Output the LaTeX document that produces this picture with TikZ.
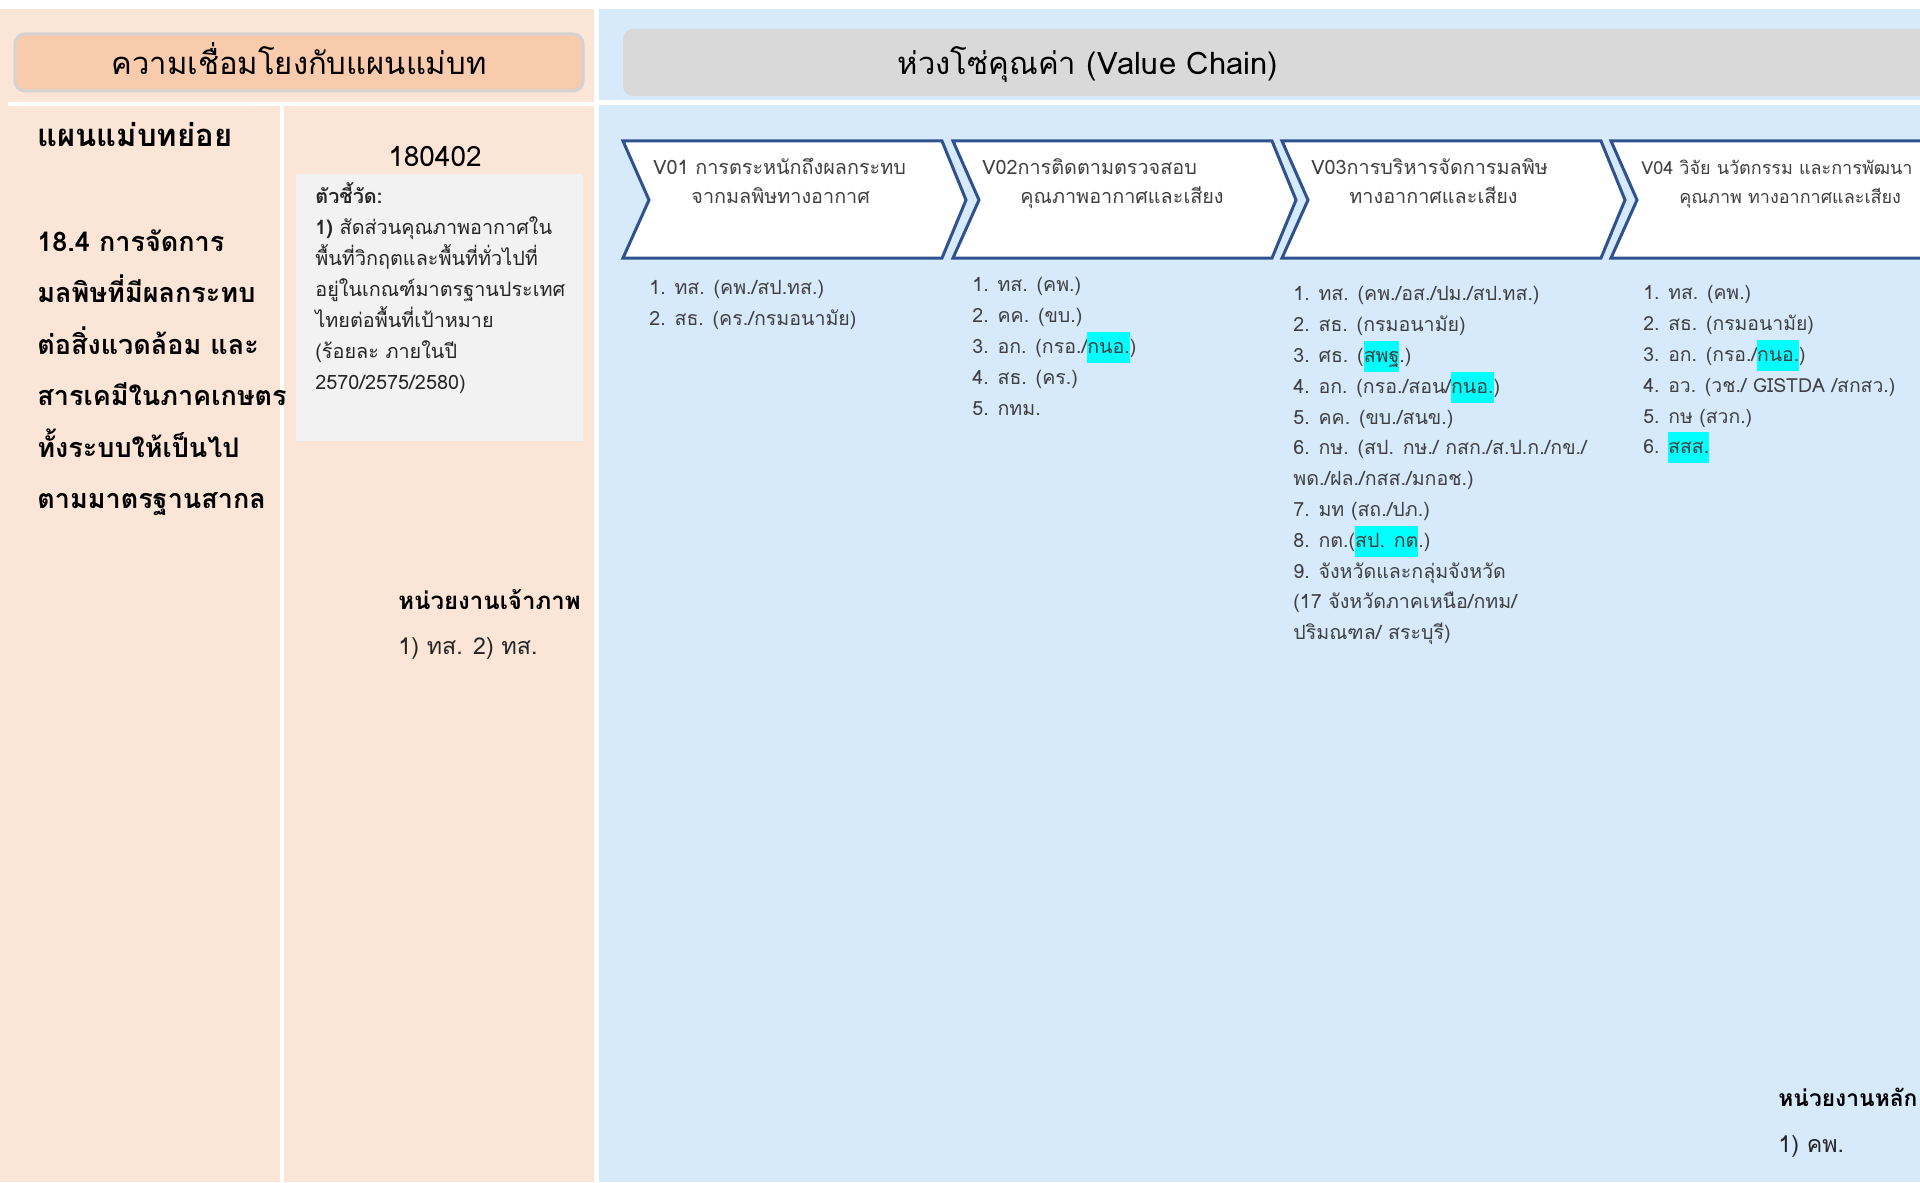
\documentclass[tikz,border=0pt]{standalone}
\usepackage{fontspec}
\newfontfamily\thaifont[Script=Thai]{Loma}
\usetikzlibrary{positioning}
\definecolor{peach}{HTML}{FBE5D6}
\definecolor{peachhead}{HTML}{F8CBAD}
\definecolor{rimgray}{HTML}{D5D3D2}
\definecolor{paleblue}{HTML}{D6EAFC}
\definecolor{headgray}{HTML}{D9D9D9}
\definecolor{boxgray}{HTML}{F2F2F2}
\definecolor{chevblue}{HTML}{2F528F}
\definecolor{txtgray}{HTML}{404040}
\definecolor{hlcyan}{HTML}{00FFFF}
\newcommand{\hl}[1]{{\setlength{\fboxsep}{0pt}\colorbox{hlcyan}{\strut#1}}}

\begin{document}
\begin{tikzpicture}[x=.5pt,y=-.5pt,
	chev/.style={draw=chevblue, line width=1.5pt, fill=white},
	hdtxt/.style={anchor=base, inner sep=0, font=\thaifont\fontsize{15.5}{18}\selectfont},
	chevtxt/.style={anchor=north west, align=left, inner sep=0, text=txtgray, font=\thaifont\fontsize{9.9}{14.5}\selectfont},
	listtxt/.style={anchor=north west, align=left, inner sep=0, text=txtgray, font=\thaifont\fontsize{9.8}{15.4}\selectfont}]
	\useasboundingbox (0,0) rectangle (1920,1182);
	\fill[white] (0,0) rectangle (1920,1182);
	% panels
	\fill[peach] (0,9) rectangle (594,1182);
	\fill[paleblue] (599,9) rectangle (1920,1182);
	\fill[white] (8,102) rectangle (594,106);
	\fill[white] (599,100) rectangle (1920,105);
	\fill[white] (280,106) rectangle (284,1182);
	% headers
	\draw[rounded corners=5pt, draw=rimgray, line width=1.5pt, fill=peachhead] (15,34) rectangle (583,91);
	\fill[rounded corners=5pt, headgray] (623,29) rectangle (1950,96);
	\node[hdtxt] (plan) at (299,75) {ความเชื่อมโยงกับแผนแม่บท};
	\node[hdtxt] (chain) at (1088,75) {ห่วงโซ่คุณค่า (Value Chain)};
	% left column
	\node[anchor=base west, inner sep=0, font=\thaifont\bfseries\fontsize{15.5}{18}\selectfont] (sub) at (37,147) {แผนแม่บทย่อย};
	\node[anchor=north west, align=left, inner sep=0, font=\thaifont\bfseries\fontsize{13.5}{25.75}\selectfont] (goal) at (37,215)
		{\strut 18.4 การจัดการ\\มลพิษที่มีผลกระทบ\\ต่อสิ่งแวดล้อม และ\\สารเคมีในภาคเกษตร\\ทั้งระบบให้เป็นไป\\ตามมาตรฐานสากล};
	\node[hdtxt, font=\thaifont\fontsize{14}{17}\selectfont] (code) at (435,167) {180402};
	\fill[boxgray] (296,174) rectangle (583,441);
	\node[anchor=north west, align=left, inner sep=0, text=black!85, font=\thaifont\fontsize{9.9}{15.5}\selectfont] (kpi) at (315,181)
		{\strut\textbf{ตัวชี้วัด:}\\\textbf{1)} สัดส่วนคุณภาพอากาศใน\\พื้นที่วิกฤตและพื้นที่ทั่วไปที่\\อยู่ในเกณฑ์มาตรฐานประเทศ\\ไทยต่อพื้นที่เป้าหมาย\\(ร้อยละ ภายในปี\\2570/2575/2580)};
	\node[anchor=base west, inner sep=0, font=\thaifont\bfseries\fontsize{12}{15}\selectfont] (host) at (398,609) {หน่วยงานเจ้าภาพ};
	\node[anchor=base west, inner sep=0, text=black!85, font=\thaifont\fontsize{11.6}{15}\selectfont] (hostlist) at (398,654) {1) ทส. 2) ทส.};
	% value chain
	\foreach \x in {623,953,1282,1611}
		\draw[chev] (\x,141) -- ++(319,0) -- ++(24,59) -- ++(-24,58) -- ++(-319,0) -- ++(26,-58) -- cycle;
	\node[chevtxt] (v01) at (653,154) {\strut V01 การตระหนักถึงผลกระทบ\\\hspace*{19pt}จากมลพิษทางอากาศ};
	\node[chevtxt] (v02) at (982,154) {\strut V02การติดตามตรวจสอบ\\\hspace*{19pt}คุณภาพอากาศและเสียง};
	\node[chevtxt] (v03) at (1311,154) {\strut V03การบริหารจัดการมลพิษ\\\hspace*{19pt}ทางอากาศและเสียง};
	\node[chevtxt, font=\thaifont\fontsize{9}{14.5}\selectfont] (v04) at (1641,154) {\strut V04 วิจัย นวัตกรรม และการพัฒนา\\\hspace*{19pt}คุณภาพ ทางอากาศและเสียง};
	\node[listtxt] (l01) at (649,273) {\strut 1. ทส. (คพ./สป.ทส.)\\2. สธ. (คร./กรมอนามัย)};
	\node[listtxt] (l02) at (972,270) {\strut 1. ทส. (คพ.)\\2. คค. (ขบ.)\\3. อก. (กรอ./\hl{กนอ.})\\4. สธ. (คร.)\\5. กทม.};
	\node[listtxt] (l03) at (1293,279) {\strut 1. ทส. (คพ./อส./ปม./สป.ทส.)\\2. สธ. (กรมอนามัย)\\3. ศธ. (\hl{สพฐ}.)\\4. อก. (กรอ./สอน/\hl{กนอ.})\\5. คค. (ขบ./สนข.)\\6. กษ. (สป. กษ./ กสก./ส.ป.ก./กข./\\พด./ฝล./กสส./มกอช.)\\7. มท (สถ./ปภ.)\\8. กต.(\hl{สป. กต}.)\\9. จังหวัดและกลุ่มจังหวัด\\(17 จังหวัดภาคเหนือ/กทม/\\ปริมณฑล/ สระบุรี)};
	\node[listtxt, font=\thaifont\fontsize{9.7}{15.4}\selectfont] (l04) at (1643,278) {\strut 1. ทส. (คพ.)\\2. สธ. (กรมอนามัย)\\3. อก. (กรอ./\hl{กนอ.})\\4. อว. (วช./ GISTDA /สกสว.)\\5. กษ (สวก.)\\6. \hl{สสส.}};
	\node[anchor=base west, inner sep=0, font=\thaifont\bfseries\fontsize{11.4}{15}\selectfont] (lead) at (1778,1106) {หน่วยงานหลัก};
	\node[anchor=base west, inner sep=0, text=black!85, font=\thaifont\fontsize{11.6}{15}\selectfont] (leadlist) at (1778,1152) {1) คพ.};
\end{tikzpicture}
\end{document}
